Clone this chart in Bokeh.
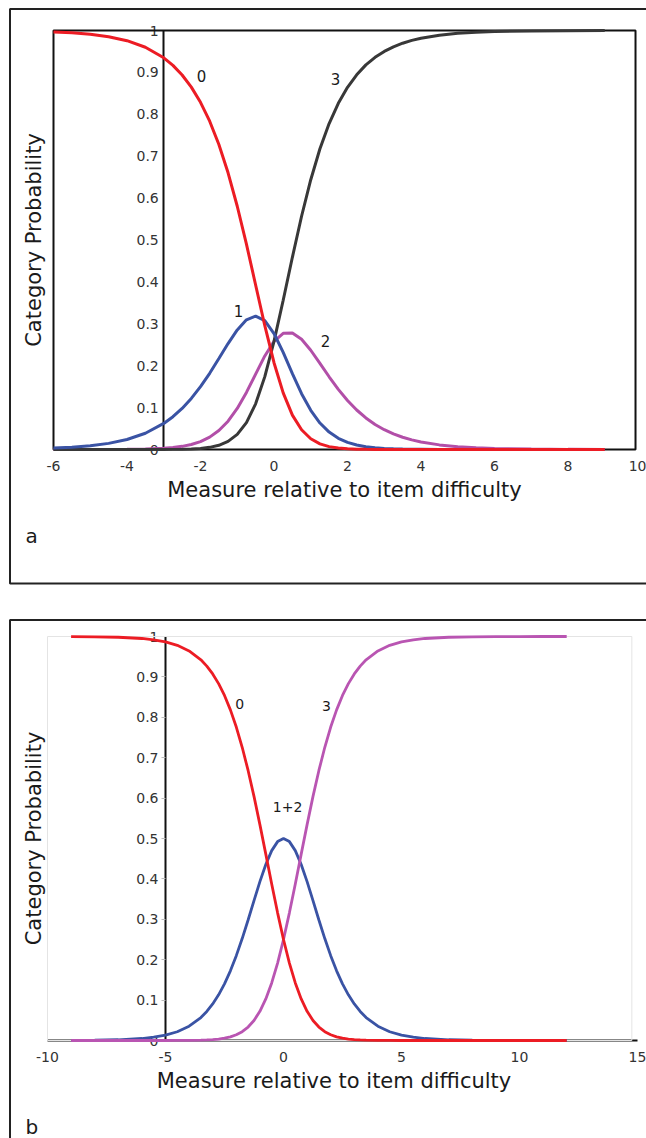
from bokeh.plotting import figure
from bokeh.models import Range1d, LinearAxis, FixedTicker, ColumnDataSource, NumeralTickFormatter
from bokeh.layouts import column
from bokeh.embed import file_html
from bokeh.resources import INLINE
from bokeh.core.properties import value

FONT = "DejaVu Sans"

# ---------------- data: panel a (four categories) ----------------
measure_a = [-6, -5.5, -5, -4.5, -4, -3.5, -3, -2.75, -2.5, -2.25, -2, -1.75, -1.5, -1.25,
             -1, -0.75, -0.5, -0.25, 0, 0.25, 0.5, 0.75, 1, 1.25, 1.5, 1.75, 2, 2.25, 2.5,
             2.75, 3, 3.25, 3.5, 3.75, 4, 4.5, 5, 5.5, 6, 7, 8, 9]
cat0_a = [0.9967, 0.9946, 0.9910, 0.9852, 0.9757, 0.9601, 0.9348, 0.9167, 0.8938, 0.8649,
          0.8286, 0.7835, 0.7278, 0.6603, 0.5806, 0.4901, 0.3926, 0.2954, 0.2071, 0.1350,
          0.0821, 0.0471, 0.0257, 0.0135, 0.0069, 0.0035, 0.0017, 0.0008, 0.0004, 0.0002,
          0.0001, 0, 0, 0, 0, 0, 0, 0, 0, 0, 0, 0]
cat1_a = [0.0033, 0.0054, 0.0089, 0.0146, 0.0239, 0.0388, 0.0622, 0.0783, 0.0981, 0.1219,
          0.1499, 0.1819, 0.2170, 0.2528, 0.2854, 0.3094, 0.3183, 0.3075, 0.2768, 0.2316,
          0.1810, 0.1332, 0.0935, 0.0632, 0.0415, 0.0268, 0.0170, 0.0107, 0.0066, 0.0041,
          0.0025, 0.0015, 0.0010, 0.0006, 0.0004, 0.0001, 0, 0, 0, 0, 0, 0]
cat2_a = [0, 0, 0.0001, 0.0002, 0.0004, 0.0011, 0.0029, 0.0047, 0.0075, 0.0120,
          0.0189, 0.0295, 0.0452, 0.0675, 0.0979, 0.1362, 0.1800, 0.2233, 0.2581, 0.2773,
          0.2782, 0.2630, 0.2369, 0.2056, 0.1736, 0.1436, 0.1170, 0.0943, 0.0754, 0.0598,
          0.0473, 0.0373, 0.0293, 0.0230, 0.0180, 0.0110, 0.0067, 0.0041, 0.0025, 0.0009,
          0.0003, 0.0001]
cat3_a = [0, 0, 0, 0, 0, 0, 0.0001, 0.0003, 0.0006, 0.0013,
          0.0026, 0.0051, 0.0101, 0.0193, 0.0360, 0.0643, 0.1091, 0.1739, 0.2581, 0.3561,
          0.4587, 0.5567, 0.6439, 0.7177, 0.7779, 0.8262, 0.8643, 0.8943, 0.9180, 0.9359,
          0.9501, 0.9611, 0.9697, 0.9765, 0.9817, 0.9889, 0.9933, 0.9959, 0.9975, 0.9991,
          0.9997, 0.9999]
curve_labels_a = ["0", "1", "2", "3"]

# ---------------- data: panel b (categories 1 and 2 combined) ----------------
measure_b = [-9, -8, -7, -6, -5.5, -5, -4.5, -4, -3.5, -3.25, -3, -2.75, -2.5, -2.25, -2,
             -1.75, -1.5, -1.25, -1, -0.75, -0.5, -0.25, 0, 0.25, 0.5, 0.75, 1, 1.25, 1.5,
             1.75, 2, 2.25, 2.5, 2.75, 3, 3.25, 3.5, 4, 4.5, 5, 5.5, 6, 7, 8, 9, 10, 11, 12]
cat0_b = [0.9998, 0.9993, 0.9982, 0.9951, 0.9919, 0.9867, 0.9782, 0.9643, 0.9423, 0.9267,
          0.9074, 0.8834, 0.8541, 0.8184, 0.7758, 0.7258, 0.6684, 0.6042, 0.5344, 0.4613,
          0.3875, 0.3160, 0.25, 0.1917, 0.1425, 0.1029, 0.0723, 0.0496, 0.0333, 0.0219,
          0.0142, 0.0091, 0.0058, 0.0036, 0.0022, 0.0014, 0.0009, 0.0003, 0.0001, 0,
          0, 0, 0, 0, 0, 0, 0, 0]
cat12_b = [0.0002, 0.0007, 0.0018, 0.0049, 0.0081, 0.0133, 0.0217, 0.0353, 0.0569, 0.0719,
           0.0904, 0.1130, 0.1402, 0.1725, 0.2100, 0.2523, 0.2983, 0.3462, 0.3932, 0.4358,
           0.4700, 0.4923, 0.5, 0.4923, 0.4700, 0.4358, 0.3932, 0.3462, 0.2983, 0.2523,
           0.2100, 0.1725, 0.1402, 0.1130, 0.0904, 0.0719, 0.0569, 0.0353, 0.0217, 0.0133,
           0.0081, 0.0049, 0.0018, 0.0007, 0.0002, 0.0001, 0, 0]
cat3_b = [0, 0, 0, 0, 0, 0, 0.0001, 0.0003, 0.0009, 0.0014,
          0.0022, 0.0036, 0.0058, 0.0091, 0.0142, 0.0219, 0.0333, 0.0496, 0.0723, 0.1029,
          0.1425, 0.1917, 0.25, 0.3160, 0.3875, 0.4613, 0.5344, 0.6042, 0.6684, 0.7258,
          0.7758, 0.8184, 0.8541, 0.8834, 0.9074, 0.9267, 0.9423, 0.9643, 0.9782, 0.9867,
          0.9919, 0.9951, 0.9982, 0.9993, 0.9998, 0.9999, 1.0, 1.0]
curve_labels_b = ["0", "1+2", "3"]

# ---------------- axes texts ----------------
prob_ticks = [0, 0.1, 0.2, 0.3, 0.4, 0.5, 0.6, 0.7, 0.8, 0.9, 1]
prob_tick_labels = ["0", "0.1", "0.2", "0.3", "0.4", "0.5", "0.6", "0.7", "0.8", "0.9", "1"]
measure_ticks_a = [-6, -4, -2, 0, 2, 4, 6, 8, 10]
measure_tick_labels_a = ["-6", "-4", "-2", "0", "2", "4", "6", "8", "10"]
measure_ticks_b = [-10, -5, 0, 5, 10, 15]
measure_tick_labels_b = ["-10", "-5", "0", "5", "10", "15"]
x_title = "Measure relative to item difficulty"
y_title = "Category Probability"
panel_names = ["a", "b"]

# ---------------- styles ----------------
RED = "#ec1c24"
BLUE = "#3a53a4"
MAGENTA = "#b24fa8"
DARK = "#383838"
INK = "#1a1a1a"


def base_fig(xr, yr, h):
    p = figure(width=646, height=h, x_range=Range1d(*xr), y_range=Range1d(*yr),
               x_axis_type=None, y_axis_type=None, output_backend="svg",
               toolbar_location=None, min_border=0, outline_line_color=None,
               background_fill_color="white", border_fill_color="white")
    return p


def prob_axis(p, loc, tick_out, standoff):
    ax = LinearAxis(fixed_location=loc, bounds=(0, 1),
                    ticker=FixedTicker(ticks=prob_ticks),
                    formatter=NumeralTickFormatter(format="0.[0]"),
                    major_label_overrides=dict(zip(prob_ticks, prob_tick_labels)),
                    axis_line_color="#111111", axis_line_width=2,
                    major_tick_in=0, major_tick_out=tick_out,
                    major_tick_line_color="#bbbbbb" if tick_out else None,
                    minor_tick_line_color=None,
                    major_label_standoff=standoff,
                    major_label_text_font=FONT, major_label_text_font_size="14px",
                    major_label_text_color="#333333", level="underlay")
    p.add_layout(ax, "left")


def measure_axis(p, ticks, labels, bounds, line, standoff):
    ax = LinearAxis(fixed_location=0, bounds=bounds, ticker=FixedTicker(ticks=ticks),
                    formatter=NumeralTickFormatter(format="0"),
                    major_label_overrides=dict(zip(ticks, labels)),
                    axis_line_color="#111111" if line else None, axis_line_width=2,
                    major_tick_line_color=None, minor_tick_line_color=None,
                    major_tick_in=0, major_tick_out=0,
                    major_label_standoff=standoff, major_label_text_font=FONT,
                    major_label_text_font_size="14px", major_label_text_color="#333333",
                    level="underlay")
    p.add_layout(ax, "below")


def title_axis(p, side, loc, bounds, text, standoff):
    ax = LinearAxis(fixed_location=loc, bounds=bounds, ticker=FixedTicker(ticks=[]),
                    axis_line_color=None, major_tick_line_color=None,
                    minor_tick_line_color=None, major_label_text_font_size="0px",
                    axis_label=text, axis_label_standoff=standoff,
                    axis_label_text_font=FONT, axis_label_text_font_size="21px",
                    axis_label_text_font_style="normal", axis_label_text_color=INK)
    p.add_layout(ax, side)


# ================= panel a =================
pa = base_fig((-7.4422, 10.136), (-0.36038, 1.0716), 600)
pa.quad(left=[-7.1837], right=[11], bottom=[-0.31981], top=[1.05131],
        fill_color=None, line_color="#222222", line_width=2)
pa.quad(left=[-6], right=[9.837], bottom=[0], top=[1],
        fill_color=None, line_color="#111111", line_width=2)
prob_axis(pa, -3, 0, 5)
measure_axis(pa, measure_ticks_a, measure_tick_labels_a, (-6, 10), False, 11)
title_axis(pa, "below", 0, (-6, 9.837), x_title, 28)
title_axis(pa, "left", -6.2177, (0, 1), y_title, 0)

src_a = ColumnDataSource(dict(m=measure_a, c0=cat0_a, c1=cat1_a, c2=cat2_a, c3=cat3_a))
pa.line("m", "c2", source=src_a, line_color=MAGENTA, line_width=3)
pa.line("m", "c3", source=src_a, line_color=DARK, line_width=3)
pa.line("m", "c1", source=src_a, line_color=BLUE, line_width=3)
pa.line("m", "c0", source=src_a, line_color=RED, line_width=3)

pa.text(x=[-1.973, -0.966, 1.401, 1.673], y=[0.8926, 0.3294, 0.2578, 0.8854],
        text=curve_labels_a, text_font=value(FONT), text_font_size="15px", text_color=INK,
        text_align="center", text_baseline="middle")
pa.text(x=[-6.762], y=[-0.2076], text=[panel_names[0]], text_font=value(FONT),
        text_font_size="20px", text_color=INK, text_align="left", text_baseline="alphabetic")

# ================= panel b =================
pb = base_fig((-11.9915, 15.3814), (-0.24257, 1.08911), 538)
pb.quad(left=[-11.589], right=[16], bottom=[-0.5], top=[1.0408],
        fill_color=None, line_color="#222222", line_width=2)
pb.quad(left=[-10], right=[14.76], bottom=[0], top=[1],
        fill_color=None, line_color="#e4e4e4", line_width=1)
prob_axis(pb, -5, 4, 3)
measure_axis(pb, measure_ticks_b, measure_tick_labels_b, (-10, 15), True, 11)
title_axis(pb, "below", 0, (-10, 14.26), x_title, 28)
title_axis(pb, "left", -10.085, (0, 1), y_title, 0)

src_b = ColumnDataSource(dict(m=measure_b, c0=cat0_b, c12=cat12_b, c3=cat3_b))
pb.line("m", "c12", source=src_b, line_color=BLUE, line_width=2.8)
pb.line("m", "c3", source=src_b, line_color="#b955b2", line_width=2.8)
pb.line("m", "c0", source=src_b, line_color=RED, line_width=2.8)

pb.text(x=[-1.86, 0.17, 1.82], y=[0.834, 0.579, 0.829], text=curve_labels_b,
        text_font=value(FONT), text_font_size="14px", text_color=INK,
        text_align="center", text_baseline="middle")
pb.text(x=[-10.932], y=[-0.2153], text=[panel_names[1]], text_font=value(FONT),
        text_font_size="20px", text_color=INK, text_align="left", text_baseline="alphabetic")

layout = column(pa, pb, spacing=0)
open("out.html", "w").write(file_html(layout, INLINE))
